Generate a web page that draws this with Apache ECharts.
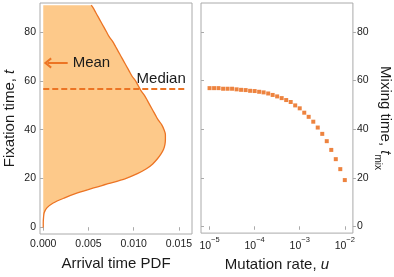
<!DOCTYPE html>
<html><head><meta charset="utf-8">
<script src="https://cdn.jsdelivr.net/npm/echarts@6/dist/echarts.min.js"></script>
<style>html,body{margin:0;padding:0;background:#fff}#c{width:394px;height:277px}</style>
</head><body><div id="c"></div>
<script>
// ---- data ----
const fixTime = [0,2,4,6,8,10,12,14,16,18,20,22,24,26,28,30,32,34,36,38,40,42,44,46,48,50,52,54,56,58,60,62,64,66,68,70,72,74,76,78,80,82,84,86,88,90,91];
const arrivalPdf = [0,0,0.00003,0.0001,0.0004,0.0011,0.0023,0.0037,0.0054,0.0073,0.0091,0.0104,0.0114,0.0121,0.0126,0.0130,0.0133,0.01345,0.0135,0.0135,0.01335,0.0131,0.0127,0.0124,0.0121,0.0118,0.0115,0.0112,0.0108,0.0105,0.0102,0.0098,0.0095,0.0092,0.0089,0.0086,0.0083,0.0080,0.0077,0.0073,0.0070,0.0067,0.0064,0.0061,0.0058,0.0055,0.0053];
const medianT = 56.7;
const meanT = 67.3;
const mutationRate = [1e-5,1.26e-5,1.58e-5,2e-5,2.51e-5,3.16e-5,3.98e-5,5.01e-5,6.31e-5,7.94e-5,
  1e-4,1.26e-4,1.58e-4,2e-4,2.51e-4,3.16e-4,3.98e-4,5.01e-4,6.31e-4,7.94e-4,
  1e-3,1.26e-3,1.58e-3,2e-3,2.51e-3,3.16e-3,3.98e-3,5.01e-3,6.31e-3,7.94e-3,1e-2];
const mixingTime = [56.9,56.9,56.9,56.65,56.65,56.65,56.4,56.2,56.1,55.8,55.7,55.4,55.15,54.7,54.1,53.5,52.8,52.0,51.2,49.8,48.6,46.8,45.1,43.1,40.7,38.1,35.1,31.5,27.7,23.6,19.1];
const pdfTicks = [0,0.005,0.01,0.015];
const timeTicks = [0,20,40,60,80];
const rateTicks = [1e-5,1e-4,1e-3,1e-2];

// ---- style ----
const FONT = "'Liberation Sans', Arial, sans-serif";
const ORANGE = '#EC7424';
const FILL = '#FDC98A';
const DOT = '#E8640F';
const FRAME = '#aaaaaa';
const TXT = '#1a1a1a';

const chart = echarts.init(document.getElementById('c'), null, {renderer:'canvas'});
const tMin = -2.7, tMax = 91.9;
const tickLab = {fontSize:10.5, color:'#222', fontFamily:FONT};
function axisBase(extra){
  return Object.assign({axisLine:{show:false}, splitLine:{show:false}}, extra);
}
const supRich = {
  b:{fontSize:10.5, color:'#222', fontFamily:FONT, lineHeight:16, verticalAlign:'bottom'},
  s:{fontSize:7.5, color:'#222', fontFamily:FONT, lineHeight:9, verticalAlign:'top'}
};
const curve = fixTime.map((t,i)=>[arrivalPdf[i], t]);

chart.setOption({
  animation:false,
  textStyle:{fontFamily:FONT},
  grid:[
    {left:40, top:3, width:152, height:231, show:true, borderColor:FRAME, borderWidth:1},
    {left:201, top:3, width:155, height:231, show:true, borderColor:FRAME, borderWidth:1}
  ],
  xAxis:[
    axisBase({gridIndex:0, type:'value', position:'bottom', min:-0.00036, max:0.01644,
      axisTick:{customValues:pdfTicks, length:3, lineStyle:{color:FRAME}},
      axisLabel:{customValues:pdfTicks, formatter:v=>v.toFixed(3), margin:5, ...tickLab},
      name:'Arrival time PDF', nameLocation:'middle', nameGap:22,
      nameTextStyle:{fontSize:15, color:TXT, fontFamily:FONT}}),
    axisBase({gridIndex:0, type:'value', position:'top', min:-0.00036, max:0.01644,
      axisTick:{customValues:pdfTicks, length:3, inside:true, lineStyle:{color:FRAME}},
      axisLabel:{show:false}}),
    axisBase({gridIndex:1, type:'log', position:'bottom', min:6.46e-6, max:0.01514,
      axisTick:{customValues:rateTicks, length:3, lineStyle:{color:FRAME}},
      minorTick:{show:false},
      axisLabel:{customValues:rateTicks, margin:3,
        formatter:v=>'{b|10}{s|\u2212'+Math.round(-Math.log10(v))+'}', rich:supRich},
      name:'Mutation rate, {i|u}', nameLocation:'middle', nameGap:22,
      nameTextStyle:{fontSize:15, color:TXT, fontFamily:FONT,
        rich:{i:{fontSize:15, fontStyle:'italic', color:TXT, fontFamily:FONT}}}}),
    axisBase({gridIndex:1, type:'log', position:'top', min:6.46e-6, max:0.01514,
      axisTick:{customValues:rateTicks, length:3, inside:true, lineStyle:{color:FRAME}},
      axisLabel:{show:false}})
  ],
  yAxis:[
    axisBase({gridIndex:0, type:'value', position:'left', min:tMin, max:tMax,
      axisTick:{customValues:timeTicks, length:3, lineStyle:{color:FRAME}},
      axisLabel:{customValues:timeTicks, margin:4, ...tickLab},
      name:'Fixation time, {i|t}', nameLocation:'middle', nameGap:23,
      nameTextStyle:{fontSize:15, color:TXT, fontFamily:FONT,
        rich:{i:{fontSize:15, fontStyle:'italic', color:TXT, fontFamily:FONT}}}}),
    axisBase({gridIndex:0, type:'value', position:'right', min:tMin, max:tMax,
      axisTick:{customValues:timeTicks, length:3, inside:true, lineStyle:{color:FRAME}},
      axisLabel:{show:false}}),
    axisBase({gridIndex:1, type:'value', position:'right', min:tMin, max:tMax,
      axisTick:{customValues:timeTicks, length:3, lineStyle:{color:FRAME}},
      axisLabel:{customValues:timeTicks, margin:4, ...tickLab},
      name:'Mixing time, {i|t}{sub|mix}', nameLocation:'middle', nameGap:19, nameRotate:-90,
      nameTextStyle:{fontSize:15, color:TXT, fontFamily:FONT,
        rich:{i:{fontSize:15, fontStyle:'italic', color:TXT, fontFamily:FONT},
              sub:{fontSize:10, color:TXT, fontFamily:FONT, verticalAlign:'bottom', lineHeight:26}}}}),
    axisBase({gridIndex:1, type:'value', position:'left', min:tMin, max:tMax,
      axisTick:{customValues:timeTicks, length:3, inside:true, lineStyle:{color:FRAME}},
      axisLabel:{show:false}})
  ],
  series:[
    {type:'custom', xAxisIndex:0, yAxisIndex:0, data:curve, silent:true,
      renderItem:(params, api)=>{
        if (params.dataIndex !== 0) return null;
        const pts = curve.map(p=>api.coord(p));
        pts.push(api.coord([0, fixTime[fixTime.length-1]]));
        pts.push(api.coord([0, fixTime[0]]));
        return {type:'polygon', shape:{points:pts}, style:{fill:FILL}};
      }},
    {type:'line', xAxisIndex:0, yAxisIndex:0, data:curve, showSymbol:false, smooth:0.25,
      lineStyle:{color:ORANGE, width:1.3}, silent:true},
    {type:'line', xAxisIndex:0, yAxisIndex:0, data:[], silent:true,
      markLine:{silent:true, symbol:'none', animation:false,
        data:[[{coord:[0, medianT]},{coord:[0.01575, medianT]}]],
        lineStyle:{color:ORANGE, width:2, type:[6,3]},
        label:{show:true, formatter:'Median', position:'insideEndTop', distance:[0,3],
          fontSize:15, color:TXT, fontFamily:FONT}}},
    {type:'line', xAxisIndex:0, yAxisIndex:0, data:[], silent:true,
      markLine:{silent:true, animation:false,
        symbol:['none','path://M5,0 L10,7 L8.4,8.2 L5,3.4 L1.6,8.2 L0,7 Z'], symbolSize:[11,8],
        data:[[{coord:[0.0027, meanT]},{coord:[0.0005, meanT]}]],
        lineStyle:{color:ORANGE, width:2, type:'solid'},
        label:{show:true, formatter:'Mean', position:'start', distance:5,
          fontSize:15, color:TXT, fontFamily:FONT}}},
    {type:'scatter', xAxisIndex:2, yAxisIndex:2, symbol:'rect', symbolSize:4,
      data:mutationRate.map((u,i)=>[u, mixingTime[i]]),
      itemStyle:{color:DOT}, silent:true}
  ]
});
</script></body></html>
